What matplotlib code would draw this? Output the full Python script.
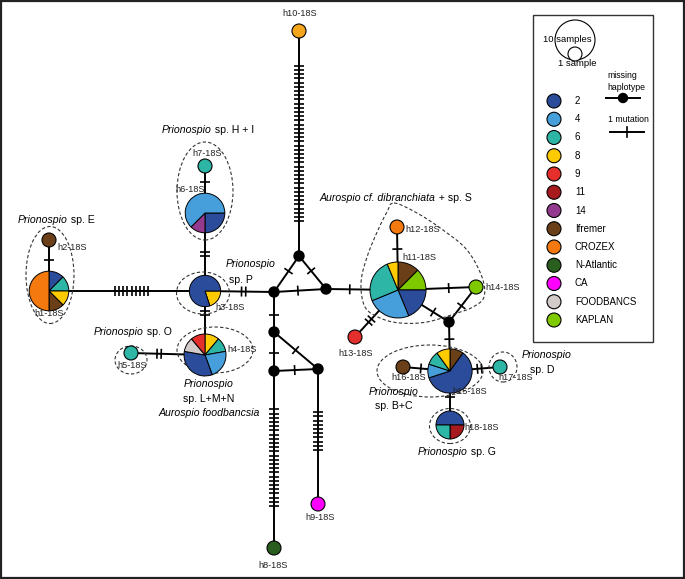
"""
Haplotype network of 18S sequences (Prionospio / Aurospio), drawn in pixel space.
"""
import numpy as np
import matplotlib
matplotlib.use('Agg')
import matplotlib.pyplot as plt
from matplotlib.patches import Wedge, Circle, Ellipse, Rectangle

W, H = 685, 579

# ---- data ---------------------------------------------------------------
groups = ['2', '4', '6', '8', '9', '11', '14', 'Ifremer', 'CROZEX',
          'N-Atlantic', 'CA', 'FOODBANCS', 'KAPLAN']
group_colors = ['#2b4c9b', '#469fda', '#2db5a6', '#fecb00', '#e42f2c',
                '#a71b1e', '#933a8f', '#6b3f18', '#f47a0f', '#2a5e1f',
                '#ff00ff', '#d3cbca', '#7fc900']
other_color = '#f6a61b'   # h10, not in legend

haplotypes = ['h1', 'h2', 'h3', 'h4', 'h5', 'h6', 'h7', 'h8', 'h9',
              'h10', 'h11', 'h12', 'h13', 'h14', 'h15', 'h16', 'h17', 'h18']

# slices listed clockwise from the start angle
compositions = {
    'h1': [('2', 1), ('6', 1), ('8', 1), ('Ifremer', 1), ('CROZEX', 4)],
    'h2': [('Ifremer', 1)],
    'h3': [('8', 1), ('2', 4)],
    'h4': [('8', 1), ('6', 1), ('4', 2), ('2', 3), ('FOODBANCS', 1), ('9', 1)],
    'h5': [('6', 1)],
    'h6': [('2', 2), ('14', 1), ('4', 5)],
    'h7': [('6', 1)],
    'h8': [('N-Atlantic', 1)],
    'h9': [('CA', 1)],
    'h10': [('other', 1)],
    'h11': [('Ifremer', 2), ('KAPLAN', 2), ('2', 3), ('4', 4), ('6', 4), ('8', 1)],
    'h12': [('CROZEX', 1)],
    'h13': [('9', 1)],
    'h14': [('KAPLAN', 1)],
    'h15': [('Ifremer', 1), ('2', 6), ('4', 1), ('6', 1), ('8', 1)],
    'h16': [('Ifremer', 1)],
    'h17': [('6', 1)],
    'h18': [('2', 2), ('11', 1), ('6', 1)],
}
start_angle = {'h3': 0, 'h6': 0, 'h18': 180}

# edges: node a, node b, number of mutations
edges = [('h2', 'h1', 1), ('h1', 'h3', 9), ('h3', 'h6', 2), ('h6', 'h7', 1),
         ('h3', 'h4', 2), ('h5', 'h4', 2), ('h3', 'm1', 2), ('m1', 'm0', 1),
         ('m0', 'm2', 1), ('m1', 'm2', 1), ('m0', 'h10', 38), ('m1', 'm3', 1),
         ('m3', 'm4', 1), ('m3', 'm5', 1), ('m4', 'm5', 1), ('m4', 'h8', 24),
         ('m5', 'h9', 10), ('m2', 'h11', 1), ('h11', 'h12', 1), ('h11', 'h14', 1),
         ('h11', 'h13', 2), ('h11', 'm6', 1), ('h14', 'm6', 1), ('m6', 'h15', 1),
         ('h15', 'h16', 1), ('h15', 'h17', 2), ('h15', 'h18', 1)]

# ---- layout (pixels from top-left) --------------------------------------
layout = {
    'h1': (49, 291), 'h2': (49, 240), 'h3': (205, 291), 'h4': (205, 355),
    'h5': (131, 353), 'h6': (205, 213), 'h7': (205, 166), 'h8': (274, 548),
    'h9': (318, 504), 'h10': (299, 31), 'h11': (398, 290), 'h12': (397, 227),
    'h13': (355, 337), 'h14': (476, 287), 'h15': (450, 371), 'h16': (403, 367),
    'h17': (500, 367), 'h18': (450, 425),
    'm0': (299, 256), 'm1': (274, 292), 'm2': (326, 289), 'm3': (274, 332),
    'm4': (274, 371), 'm5': (318, 369), 'm6': (449, 322),
}
tick_pos = [0.39, 0.53, 0.47, 0.66, 0.34, 0.38, 0.56, 0.58, 0.45, 0.46, 0.50,
            0.57, 0.54, 0.49, 0.47, 0.49, 0.46, 0.33, 0.65, 0.65, 0.65, 0.69,
            0.54, 0.35, 0.62, 0.59, 0.48]

color_of = dict(zip(groups, group_colors))
color_of['other'] = other_color

fig = plt.figure(figsize=(W / 100, H / 100), dpi=100)
ax = fig.add_axes([0, 0, 1, 1])
ax.set_xlim(0, W)
ax.set_ylim(0, H)
ax.axis('off')
renderer = fig.canvas.get_renderer()

LW = 1.4
FONT = 'Liberation Sans'


def P(xy):
    return xy[0], H - xy[1]


def radius(n):
    return 7 * np.sqrt(n)


# ---- edges and mutation ticks -------------------------------------------
for (a, b, nm), t in zip(edges, tick_pos):
    (x0, y0), (x1, y1) = P(layout[a]), P(layout[b])
    ax.plot([x0, x1], [y0, y1], color='black', lw=LW, zorder=1,
            solid_capstyle='butt')
    d = np.array([x1 - x0, y1 - y0])
    L = np.hypot(*d)
    u = d / L
    nrm = np.array([-u[1], u[0]])
    c = np.array([x0, y0]) + t * d
    sp = 4.2
    for k in range(nm):
        p = c + (k - (nm - 1) / 2) * sp * u
        q0, q1 = p - 5 * nrm, p + 5 * nrm
        ax.plot([q0[0], q1[0]], [q0[1], q1[1]], color='black', lw=1.2,
                zorder=2, solid_capstyle='butt')

# ---- haplotype pies -----------------------------------------------------
for h in haplotypes:
    x, y = P(layout[h])
    comp = compositions[h]
    n = sum(c for _, c in comp)
    r = radius(n)
    a = start_angle.get(h, 90)
    if len(comp) == 1:
        ax.add_patch(Circle((x, y), r, fc=color_of[comp[0][0]], ec='black',
                            lw=0.8, zorder=3))
        continue
    for g, c in comp:
        da = 360 * c / n
        ax.add_patch(Wedge((x, y), r, a - da, a, fc=color_of[g], ec='black',
                           lw=0.7, zorder=3))
        a -= da

for m in ['m0', 'm1', 'm2', 'm3', 'm4', 'm5', 'm6']:
    ax.add_patch(Circle(P(layout[m]), 5, fc='black', ec='black', zorder=4))

# ---- haplotype labels -----------------------------------------------------
hap_labels = {
    'h1': (49, 313, 'center'), 'h2': (57, 247, 'left'), 'h3': (215, 307, 'left'),
    'h4': (227, 349, 'left'), 'h5': (132, 365, 'center'), 'h6': (190, 190, 'center'),
    'h7': (207, 153, 'center'), 'h8': (273, 566, 'center'), 'h9': (320, 518, 'center'),
    'h10': (300, 13, 'center'), 'h11': (402, 257, 'left'), 'h12': (405, 229, 'left'),
    'h13': (356, 353, 'center'), 'h14': (485, 287, 'left'), 'h15': (452, 391, 'left'),
    'h16': (391, 377, 'left'), 'h17': (498, 377, 'left'), 'h18': (464, 427, 'left'),
}
for h in haplotypes:
    x, y, ha = hap_labels[h]
    ax.text(x, H - y, h + '-18S', fontsize=6.6, ha=ha, va='center',
            family=['Liberation Sans Narrow', FONT], color='#222222', zorder=5)


# ---- species labels -----------------------------------------------------
def rich_text(x, y, parts, size=7.6, ha='left'):
    objs = [ax.text(0, 0, s, fontsize=size, style=st, family=FONT,
                    va='center', ha='left', zorder=5) for s, st in parts]
    widths = [o.get_window_extent(renderer).width for o in objs]
    x0 = x - sum(widths) / 2 if ha == 'center' else x
    for o, w in zip(objs, widths):
        o.set_position((x0, H - y))
        x0 += w


it, rm = 'italic', 'normal'
rich_text(18, 220, [('Prionospio', it), (' sp. E', rm)])
rich_text(162, 130, [('Prionospio', it), (' sp. H + I', rm)])
rich_text(226, 264, [('Prionospio', it)])
rich_text(229, 280, [('sp. P', rm)])
rich_text(94, 332, [('Prionospio', it), (' sp. O', rm)])
rich_text(209, 384, [('Prionospio', it)], ha='center')
rich_text(209, 399, [('sp. L+M+N', rm)], ha='center')
rich_text(209, 413, [('Aurospio foodbancsia', it)], ha='center')
rich_text(320, 198, [('Aurospio cf. dibranchiata', it), (' + sp. S', rm)])
rich_text(522, 355, [('Prionospio', it)])
rich_text(530, 370, [('sp. D', rm)])
rich_text(394, 392, [('Prionospio', it)], ha='center')
rich_text(394, 406, [('sp. B+C', rm)], ha='center')
rich_text(418, 452, [('Prionospio', it), (' sp. G', rm)])

# ---- dashed groupings ---------------------------------------------------
dash = dict(fill=False, ec='#333333', lw=0.8, ls=(0, (3, 2)), zorder=2)
for cx, cy, w, hh in [(50, 275, 48, 97), (205, 191, 56, 98), (203, 293, 53, 42),
                      (215, 350, 76, 46), (131, 360, 32, 28), (430, 371, 106, 52),
                      (503, 367, 28, 30), (450, 426, 41, 35)]:
    ax.add_patch(Ellipse((cx, H - cy), w, hh, **dash))


def closed_curve(pts, n=20):
    Q = np.array(pts, float)
    m = len(Q)
    out = []
    for i in range(m):
        p0, p1, p2, p3 = Q[i - 1], Q[i], Q[(i + 1) % m], Q[(i + 2) % m]
        for s in np.linspace(0, 1, n, endpoint=False):
            out.append(0.5 * (2 * p1 + (-p0 + p2) * s
                              + (2 * p0 - 5 * p1 + 4 * p2 - p3) * s ** 2
                              + (-p0 + 3 * p1 - 3 * p2 + p3) * s ** 3))
    out.append(out[0])
    return np.array(out)


outline = closed_curve([(394, 203), (417, 213), (443, 230), (467, 250),
                        (482, 277), (484, 297), (473, 307), (457, 313),
                        (427, 322), (400, 323), (380, 318), (365, 307),
                        (361, 283), (367, 257), (378, 230), (387, 212)])
ax.plot(outline[:, 0], H - outline[:, 1], color='#333333', lw=0.8,
        ls=(0, (3, 2)), zorder=2)

# ---- legend -------------------------------------------------------------
ax.add_patch(Rectangle((533, H - 342), 120, 327, fill=False, ec='#333333',
                       lw=1.0, zorder=5))
ax.add_patch(Circle((575, H - 40), 20, fc='white', ec='black', lw=0.8, zorder=5))
ax.add_patch(Circle((575, H - 54), 7, fc='white', ec='black', lw=0.8, zorder=6))
ax.text(543, H - 40, '10 samples', fontsize=6.8, family=FONT, va='center', zorder=7)
ax.text(558, H - 64, '1 sample', fontsize=6.8, family=FONT, va='center', zorder=7)
ax.text(607, H - 76, 'missing', fontsize=6.3, family=FONT, va='center')
ax.text(607, H - 87, 'haplotype', fontsize=6.3, family=FONT, va='center')
ax.plot([606, 640], [H - 98, H - 98], color='black', lw=LW)
ax.add_patch(Circle((623, H - 98), 4.5, fc='black', ec='black', zorder=6))
ax.text(608, H - 119, '1 mutation', fontsize=6.3, family=FONT, va='center')
ax.plot([610, 644], [H - 132, H - 132], color='black', lw=LW)
ax.plot([627, 627], [H - 127, H - 137], color='black', lw=1.2)

for i, (g, col) in enumerate(zip(groups, group_colors)):
    yy = H - (101 + 18.25 * i)
    ax.add_patch(Circle((554, yy), 7, fc=col, ec='black', lw=0.8, zorder=6))
    ax.text(575, yy, g, fontsize=7, family=FONT, va='center', zorder=6)

# outer frame
ax.add_patch(Rectangle((1, 1), W - 2, H - 2, fill=False, ec='#222222', lw=1.6))

fig.savefig('out.png', dpi=100)
